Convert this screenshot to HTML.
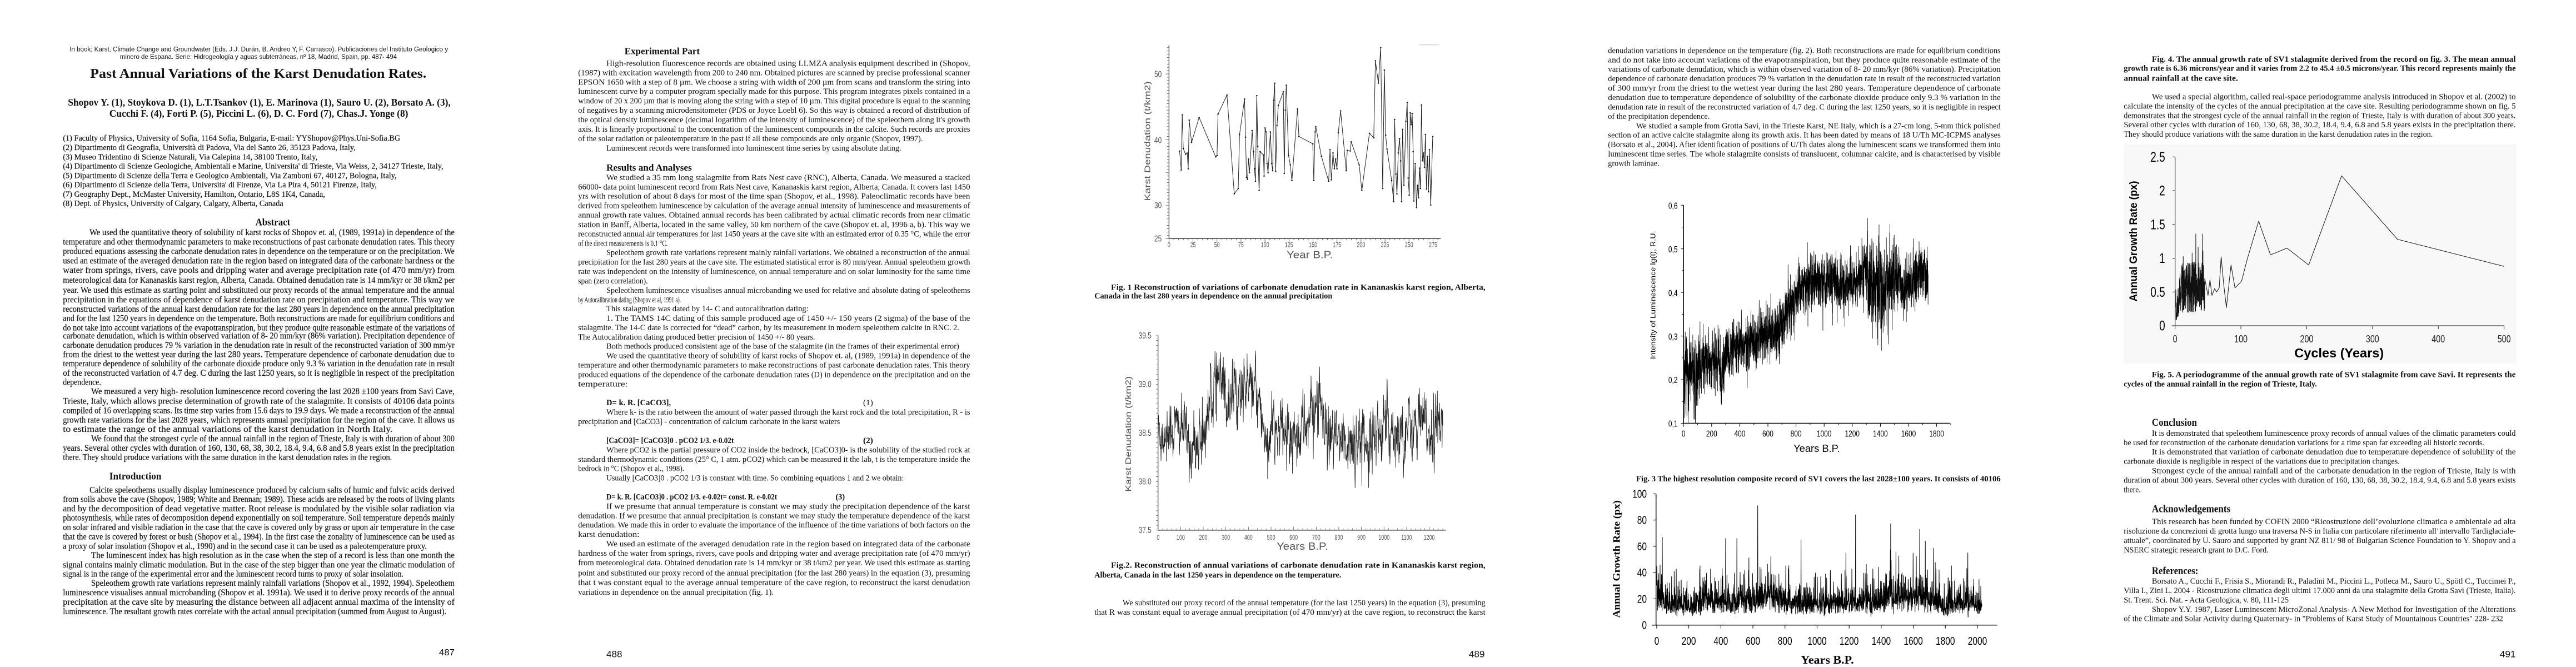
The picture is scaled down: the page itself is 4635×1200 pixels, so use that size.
<!DOCTYPE html>
<html><head><meta charset="utf-8"><style>
html,body{margin:0;padding:0;background:#fff;}
body{width:4635px;height:1200px;position:relative;overflow:hidden;}
svg.pg{position:absolute;top:0;height:1200px;width:930px;}
</style></head><body>
<svg class="pg" id="p1" style="left:0" viewBox="0 0 1560 3120" preserveAspectRatio="none"></svg>
<svg class="pg" id="p2" style="left:930px" viewBox="0 0 1560 1560" preserveAspectRatio="none"></svg>
<svg class="pg" id="p3" style="left:1850px" viewBox="0 0 1560 1560" preserveAspectRatio="none"></svg>
<svg class="pg" id="p4" style="left:2780px" viewBox="0 0 1560 1560" preserveAspectRatio="none"></svg>
<svg class="pg" id="p5" style="left:3705px" viewBox="0 0 1560 1560" preserveAspectRatio="none"></svg>
<script>
var NS='http://www.w3.org/2000/svg';
function el(svg,tag,a,txt){var e=document.createElementNS(NS,tag);for(var k in a)e.setAttribute(k,a[k]);if(txt!=null)e.textContent=txt;svg.appendChild(e);return e;}
function T(svg,x,y,s,o){o=o||{};var a={x:x,y:y,'font-size':o.fs||19};
 if(o.len){a.textLength=o.len;a.lengthAdjust='spacingAndGlyphs';}
 if(o.anchor)a['text-anchor']=o.anchor;if(o.bold)a['font-weight']='bold';if(o.it)a['font-style']='italic';
 a.style='font-family:'+(o.fam||'"Liberation Serif",serif')+';fill:'+(o.fill||'#111')+(o.sw?';stroke:'+(o.fill||'#111')+';stroke-width:'+o.sw:'');
 if(o.rot){a.transform='rotate(-90 '+x+' '+y+')';}
 return el(svg,'text',a,s);}
function L(svg,arr,fs,right,base,fam,sw){arr.forEach(function(r){var x=r[0],e=r[2]||right;
 T(svg,x,r[1]+base,r[3],{fs:fs,len:e-x,bold:r[4],fam:fam,sw:sw});});}
var rs=12345;function rnd(){rs=(rs*1103515245+12345)%2147483648;return rs/2147483648;}
function gs(){var u=rnd()||1e-6,v=rnd();return Math.sqrt(-2*Math.log(u))*Math.cos(6.2832*v);}
function ln(svg,x1,y1,x2,y2,w,c){el(svg,'line',{x1:x1,y1:y1,x2:x2,y2:y2,stroke:c||'#222','stroke-width':w||1,'vector-effect':'non-scaling-stroke'});}
function path(svg,pts,w,c){var d='M'+pts.map(function(p){return p[0].toFixed(1)+' '+p[1].toFixed(1);}).join('L');
 el(svg,'path',{d:d,fill:'none',stroke:c||'#111','stroke-width':w||1,'vector-effect':'non-scaling-stroke','stroke-linejoin':'round'});}
function interp(tab,x){for(var i=1;i<tab.length;i++){if(x<=tab[i][0]){var a=tab[i-1],b=tab[i];return a[1]+(b[1]-a[1])*(x-a[0])/(b[0]-a[0]);}}return tab[tab.length-1][1];}
var SF='"Liberation Sans",sans-serif',G='#555';

/* ================= PAGE 1 ================= */
var p1=document.getElementById('p1');
T(p1,210,240,'In book: Karst, Climate Change and Groundwater (Eds. J.J. Durán, B. Andreo Y, F. Carrasco). Publicaciones del Instituto Geologico y',{fs:32,len:1142,fam:SF});
T(p1,362,276,'minero de Espana. Serie: Hidrogeología y aguas subterráneas, nº 18, Madrid, Spain, pp. 487- 494',{fs:32,len:836,fam:SF});
T(p1,272,364,'Past Annual Variations of the Karst Denudation Rates.',{fs:62,len:1015,bold:1});
T(p1,205,494,'Shopov Y. (1), Stoykova D. (1), L.T.Tsankov (1), E. Marinova (1), Sauro U. (2), Borsato A. (3),',{fs:46,len:1155,bold:1});
T(p1,330,546,'Cucchi F. (4), Forti P. (5), Piccini L. (6), D. C. Ford  (7), Chas.J. Yonge (8)',{fs:46,len:902,bold:1});
var aff=[[645,1208,'(1) Faculty of Physics, University of Sofia, 1164 Sofia, Bulgaria, E-mail: YYShopov@Phys.Uni-Sofia.BG'],
[689,1073,'(2) Dipartimento di Geografia, Università di Padova, Via del Santo 26, 35123 Padova, Italy,'],
[733,958,'(3) Museo Tridentino di Scienze Naturali, Via Calepina 14, 38100 Trento, Italy,'],
[776,1338,"(4) Dipartimento di Scienze Geologiche, Ambientali e Marine, Universita' di Trieste, Via Weiss, 2, 34127 Trieste, Italy,"],
[820,1197,'(5) Dipartimento di Scienze della Terra e Geologico Ambientali, Via Zamboni 67, 40127, Bologna, Italy,'],
[863,1137,"(6) Dipartimento di Scienze della Terra, Universita' di Firenze, Via La Pira 4, 50121 Firenze, Italy,"],
[907,981,'(7) Geography Dept., McMaster University, Hamilton, Ontario, L8S 1K4, Canada,'],
[950,855,'(8) Dept. of Physics, University of Calgary, Calgary, Alberta, Canada']];
aff.forEach(function(a){T(p1,190,a[0]+13,a[2],{fs:38,len:a[1]-190,sw:0.4});});
T(p1,771,1054,'Abstract',{fs:46,len:105,bold:1});
var R1=1372,ab=[
[270,1087,0,'We used the quantitative theory of solubility of karst rocks of Shopov et. al, (1989, 1991a) in dependence of the'],
[190,1131,0,'temperature and other thermodynamic  parameters to make reconstructions of past carbonate denudation rates. This theory'],
[190,1175,0,'produced equations assessing the carbonate denudation rates in dependence on the temperature or on the precipitation. We'],
[190,1219,0,'used an estimate of the averaged denudation rate in the region based on integrated data of the carbonate hardness or the'],
[190,1263,0,'water  from  springs,  rivers,  cave  pools  and  dripping  water  and  average  precipitation  rate  (of  470  mm/yr)  from'],
[190,1310,0,'meteorological data for Kananaskis karst region, Alberta, Canada. Obtained denudation rate is 14 mm/kyr or 38 t/km2 per'],
[190,1357,0,'year. We used this estimate as starting point and substituted our proxy records of the annual temperature and the annual'],
[190,1401,0,'precipitation in the equations of dependence of karst denudation rate on precipitation and temperature. This way we'],
[190,1445,0,'reconstructed variations of the annual karst denudation rate for the last 280 years in dependence on the annual precipitation'],
[190,1489,0,'and for the last 1250 years in dependence on the temperature. Both reconstructions are made for equilibrium conditions and'],
[190,1533,0,'do not take into account variations of the evapotranspiration, but they produce quite reasonable estimate of the variations of'],
[190,1570,0,'carbonate denudation, which is within observed variation of 8- 20 mm/kyr (86% variation). Precipitation dependence of']];
var o=1560,ab2=[
[190,54,0,'carbonate denudation produces 79 % variation in the denudation rate in result of the reconstructed variation of 300 mm/yr'],
[190,97,0,'from the driest to the wettest year during the last 280 years. Temperature dependence of carbonate denudation due to'],
[190,140,0,'temperature dependence of solubility of the carbonate dioxide produce only 9.3 % variation in the denudation rate in result'],
[190,184,0,'of the reconstructed variation of 4.7 deg. C during the last 1250 years, so it is negligible in respect of the precipitation'],
[190,228,305,'dependence.'],
[275,271,0,'We measured a very high- resolution luminescence record covering the last 2028 ±100 years from Savi Cave,'],
[190,316,0,'Trieste, Italy, which allows precise determination of growth rate of the stalagmite. It consists of 40106 data points'],
[190,360,0,'compiled of 16 overlapping scans. Its time step varies from 15.6 days to 19.9 days. We made a reconstruction of the annual'],
[190,404,0,'growth rate variations for the last 2028 years, which represents annual precipitation for the region of the cave. It allows us'],
[190,447,1185,'to estimate the range of the annual variations of the karst denudation in North Italy.'],
[275,491,0,'We found that the strongest cycle of the annual rainfall in the region of Trieste, Italy is with duration of about 300'],
[190,535,0,'years. Several other cycles with duration of 160, 130, 68, 38, 30.2, 18.4, 9.4, 6.8 and 5.8 years exist in the precipitation'],
[190,578,1183,'there. They should produce variations with the same duration in the karst denudation rates in the region.'],
[270,732,0,'Calcite speleothems usually display luminescence produced by calcium salts of humic and fulvic acids derived'],
[190,775,0,'from soils above the cave (Shopov, 1989; White and Brennan; 1989). These acids are released by the roots of living plants'],
[190,819,0,'and by the decomposition of dead vegetative matter. Root release is modulated by the visible solar radiation via'],
[190,862,0,'photosynthesis, while rates of decomposition depend exponentially on soil temperature. Soil temperature depends mainly'],
[190,906,0,'on solar infrared and visible radiation in the case that the cave is covered only by grass or upon air temperature in the case'],
[190,950,0,'that the cave is covered by forest or bush (Shopov et al., 1994). In the first case the zonality of luminescence can be used as'],
[190,994,1288,'a proxy of solar insolation (Shopov et al., 1990) and in the second case it can be used as a paleotemperature proxy.'],
[275,1037,0,'The luminescent index has high resolution as in the case when the step of a record is less than one month the'],
[190,1081,0,'signal contains mainly climatic modulation. But in the case of the step bigger than one year the climatic modulation of'],
[190,1124,1218,'signal is in the range of the experimental error and the luminescent record turns to proxy of solar insolation.'],
[275,1168,0,'Speleothem growth rate variations represent mainly rainfall variations (Shopov et al., 1992, 1994). Speleothem'],
[190,1212,0,'luminescence visualises annual microbanding (Shopov et al. 1991a). We used it to derive proxy records of the annual'],
[190,1256,0,'precipitation at the cave site by measuring the distance between all adjacent annual maxima of the intensity of'],
[190,1300,1347,'luminescence. The resultant growth rates correlate with the actual annual precipitation (summed from August to August).']];
ab2.forEach(function(r){r[1]+=o;});
L(p1,ab.concat(ab2),40,R1,13,null,0.4);
T(p1,330,o+683,'Introduction',{fs:46,len:157,bold:1});
T(p1,1325,o+1505,'487',{fs:40,len:47,fam:SF});

/* ================= PAGE 2 ================= */
var p2=document.getElementById('p2');
T(p2,325,127,'Experimental Part',{fs:22,len:227,bold:1});
T(p2,270,399,'Results and Analyses',{fs:22,len:258,bold:1});
var R2=1368,l2=[
[270,148,0,'High-resolution fluorescence records are obtained using LLMZA analysis equipment described in (Shopov,'],
[185,170,0,'(1987) with excitation wavelength from 200 to 240 nm. Obtained pictures are scanned by precise professional scanner'],
[185,192,0,'EPSON 1650 with a step of 8 µm. We choose a string with width of 200 µm from scans and transform the string into'],
[185,214,0,'luminescent curve by a computer program specially made for this purpose. This program integrates pixels contained in a'],
[185,236,0,'window of 20 x 200 µm that is moving along the string with a step of 10 µm. This digital procedure is equal to the scanning'],
[185,258,0,'of negatives by a scanning microdensitometer (PDS or Joyce Loebl 6). So this way is obtained a record of distribution of'],
[185,280,0,"the optical density luminescence (decimal logarithm of the intensity of luminescence) of the speleothem along it's growth"],
[185,302,0,'axis. It is linearly proportional to the concentration of the luminescent compounds in the calcite. Such records are proxies'],
[185,324,1225,'of the solar radiation or paleotemperature in the past if all these compounds are only organic (Shopov, 1997).'],
[270,346,1160,'Luminescent records were transformed into luminescent time series by using absolute dating.'],
[270,415,0,'We studied a 35 mm long stalagmite from Rats Nest cave (RNC), Alberta, Canada. We measured a stacked'],
[185,437,0,'66000- data point luminescent record from Rats Nest cave, Kananaskis karst region, Alberta, Canada. It covers last 1450'],
[185,459,0,'yrs with resolution of about 8 days for most of the time span (Shopov, et al., 1998). Paleoclimatic records have been'],
[185,481,0,'derived from speleothem luminescence by calculation of the average annual intensity of luminescence and measurements of'],
[185,503,0,'annual growth rate values. Obtained annual records has been calibrated by actual climatic records from near climatic'],
[185,525,0,'station in Banff, Alberta, located in the same valley, 50 km northern of the cave (Shopov et. al, 1996 a, b). This way we'],
[185,547,0,'reconstructed annual air temperatures for last 1450 years at the cave site with an estimated error of 0.35 °C, while the error'],
[185,569,455,'of the direct measurements is 0.1 °C.'],
[270,591,0,'Speleothem growth rate variations represent mainly rainfall variations. We obtained a reconstruction of the annual'],
[185,613,0,'precipitation for the last 280 years at the cave site. The estimated statistical error is 80 mm/year. Annual speleothem growth'],
[185,635,0,'rate was independent on the intensity of luminescence, on annual temperature and on solar luminosity for the same time'],
[185,657,395,'span (zero correlation).'],
[270,679,0,'Speleothem luminescence visualises annual microbanding we used for relative and absolute dating of speleothems'],
[185,701,495,'by Autocalibration dating (Shopov et al, 1991 a).'],
[270,722,880,'This stalagmite was dated by 14- C and autocalibration dating:'],
[270,744,0,'1. The TAMS 14C dating of this sample produced age of 1450 +/- 150 years (2 sigma) of the base of the'],
[185,766,1335,'stalagmite. The 14-C date is corrected for “dead” carbon, by its measurement in modern speleothem calcite in RNC.  2.'],
[185,788,900,'The Autocalibration dating produced better precision of 1450 +/- 80 years.'],
[270,810,1335,'Both methods produced consistent age of the base of the stalagmite (in the frames of their experimental error)'],
[270,832,0,'We used the quantitative theory of solubility of karst rocks of Shopov et. al, (1989, 1991a) in  dependence  of  the'],
[185,854,0,'temperature and other thermodynamic parameters to make reconstructions of past carbonate denudation rates. This theory'],
[185,876,0,'produced equations of the dependence of the carbonate denudation rates (D) in dependence on the precipitation and on the'],
[185,898,335,'temperature:'],
[270,942,465,'D= k. R. [CaCO3],',1],[1045,942,1075,'(1)'],
[270,964,0,'Where k- is the ratio between the amount of water passed through the karst rock and the total precipitation, R - is'],
[185,986,975,'precipitation and [CaCO3] - concentration of calcium carbonate in the karst waters'],
[270,1030,655,'[CaCO3]= [CaCO3]0 . pCO2 1/3. e-0.02t',1],[1045,1030,1075,'(2)',1],
[270,1052,0,'Where pCO2 is the partial pressure of CO2 inside the bedrock, [CaCO3]0- is the solubility of the studied rock at'],
[185,1074,0,'standard thermodynamic conditions (25° C, 1 atm. pCO2) which can be measured it the lab, t is the temperature inside the'],
[185,1096,505,'bedrock in °C  (Shopov et al., 1998).'],
[270,1118,1168,'Usually [CaCO3]0 . pCO2 1/3 is constant with time. So combining equations 1 and 2 we obtain:'],
[270,1162,785,'D= k. R. [CaCO3]0 . pCO2 1/3. e-0.02t= const. R. e-0.02t',1],[962,1162,990,'(3)',1],
[270,1184,0,'If we presume that annual temperature is constant we may study the precipitation dependence of the karst'],
[185,1206,0,'denudation. If we presume that annual precipitation is constant we may study the temperature dependence of the karst'],
[185,1228,0,'denudation. We made this in order to evaluate the importance of the influence of the time variations of both factors on the'],
[185,1250,370,'karst denudation:'],
[270,1272,0,'We used an estimate of the averaged denudation rate in the region based on integrated data of the carbonate'],
[185,1294,0,'hardness of the water from springs, rivers, cave pools and dripping water and average precipitation rate (of 470 mm/yr)'],
[185,1316,0,'from meteorological data. Obtained denudation rate is 14 mm/kyr or 38 t/km2 per year. We used this estimate as starting'],
[185,1340,0,'point and substituted our proxy record of the annual precipitation (for the last 280 years) in the equation (3), presuming'],
[185,1362,0,'that t was constant equal to the average annual temperature of the cave region, to reconstruct the karst denudation'],
[185,1385,775,'variations in dependence on the annual precipitation (fig. 1).']];
L(p2,l2,19,R2,6);
T(p2,270,1537,'488',{fs:22,len:48,fam:SF});

/* ================= PAGE 3 ================= */
var p3=document.getElementById('p3');
ln(p3,425,105,425,558,1.2);ln(p3,425,558,1245,558,1.2);
for(var v=25;v<=54;v+=0.5){var yy=558-(v-25)*15.4;ln(p3,v%5==0?415:419,yy,425,yy,0.8,'#444');}
for(var yr=0;yr<=280;yr+=5){var xx=425+yr*2.898;ln(p3,xx,558,xx,yr%25==0?566:562,0.8,'#444');}
[[50,173],[40,328],[30,480],[25,558]].forEach(function(a){T(p3,403,a[1]+7,String(a[0]),{fs:20,anchor:'end',fam:SF,fill:G});});
for(var yr=0;yr<=275;yr+=25)T(p3,425+yr*2.898,578,String(yr),{fs:15,anchor:'middle',fam:SF,fill:G});
T(p3,368,470,'Karst Denudation  (t/km2)',{fs:24,rot:1,len:280,fam:SF,fill:G});
T(p3,780,604,'Year  B.P.',{fs:24,len:140,fam:SF,fill:G});
var c1=[[457,38.3],[462,35.4],[465,43.8],[468,38.7],[475,37.8],[480,38],[483,35.6],[486,43],[493,39.6],[516,43.4],[566,37.4],[570,37.6],[573,43.9],[600,46.8],[622,31.8],[634,32.6],[638,40.8],[653,46.2],[656,40.4],[659,34.3],[662,34],[665,37.1],[668,35],[676,41.4],[680,38.2],[683,35.6],[686,33.7],[690,46.7],[693,39],[697,32.3],[700,38.2],[710,37.7],[712,34.5],[715,41.8],[718,41.2],[721,36.4],[724,35],[731,41.2],[735,36.4],[738,35.3],[741,46],[744,48.6],[747,35.2],[751,42.2],[755,45.2],[770,47.3],[773,34.9],[776,44.5],[779,48.3],[786,37.6],[791,36.2],[796,33.8],[813,44.7],[817,40.5],[859,39.4],[862,33.8],[866,41.2],[868,42],[885,37.5],[907,33.7],[911,38.5],[915,33.9],[920,38],[924,35.6],[928,37.1],[932,35.6],[936,41.1],[943,44.4],[960,35.3],[963,38.4],[972,38.3],[975,39.7],[999,36.2],[1007,32.3],[1030,41],[1043,40.3],[1048,52],[1057,48.6],[1064,54],[1070,32.6],[1075,50.6],[1079,40.7],[1083,38.6],[1097,33.8],[1103,30.6],[1106,43.1],[1110,34.8],[1113,31.8],[1117,38],[1121,40.2],[1124,36.8],[1127,30.6],[1130,41.6],[1134,33.1],[1140,42.8],[1144,45.7],[1147,34.2],[1150,31.6],[1153,44.1],[1156,42.3],[1159,44],[1162,38.2],[1164,30.7],[1168,36.4],[1172,29.7],[1175,33.1],[1178,31.2],[1181,35.7],[1184,32.6],[1187,45.3],[1190,36.8],[1193,38],[1196,35.8],[1199,40.8],[1202,32.5],[1205,37.5],[1208,32.1],[1211,38.5],[1215,30.1],[1221,40.5]];
var pts1=c1.map(function(p){return [p[0],558-(p[1]-25)*15.4];});
path(p3,pts1,1,'#222');
pts1.forEach(function(p){ln(p3,p[0]-2,p[1],p[0]+2,p[1],2,'#111');});
ln(p3,1180,105,1240,105,0.6,'#999');
ln(p3,392,785,392,1240,1.2);ln(p3,392,1240,1260,1240,1.2);
for(var v=37.5;v<=39.5001;v+=0.05){var yy=1240-(v-37.5)*227.5;ln(p3,386,yy,392,yy,0.7,'#444');}
for(var yr=0;yr<=1270;yr+=20){var xx=392+yr*0.682;ln(p3,xx,1240,xx,yr%100==0?1232:1236,0.7,'#444');}
['39.5','39.0','38.5','38.0','37.5'].forEach(function(s,i){T(p3,372,785+i*113.75+7,s,{fs:20,anchor:'end',fam:SF,fill:G});});
for(var yr=0;yr<=1200;yr+=100)T(p3,392+yr*0.682,1262,String(yr),{fs:15,anchor:'middle',fam:SF,fill:G});
T(p3,310,1150,'Karst Denudation  (t/km2)',{fs:24,rot:1,len:270,fam:SF,fill:G});
T(p3,750,1286,'Years  B.P.',{fs:24,len:155,fam:SF,fill:G});
var b2=[[0,38.5],[100,38.55],[150,38.35],[200,38.5],[230,38.8],[265,39.05],[300,38.85],[330,38.95],[420,38.95],[450,38.85],[465,38.5],[600,38.5],[640,38.55],[690,38.7],[715,38.95],[730,38.45],[800,38.4],[900,38.45],[1000,38.55],[1100,38.55],[1260,38.55]];
var n=0,pts2=[];for(var i=0;i<=1260;i++){n=0.55*n+gs()*0.14;var val=interp(b2,i)+n;if(rnd()<0.02)val+=(rnd()-0.5)*0.9;val=Math.max(37.9,Math.min(39.45,val));pts2.push([392+i*0.682,1240-(val-37.5)*227.5]);}
path(p3,pts2,0.9,'#222');
var cap=[[250,672,0,'Fig. 1  Reconstruction  of  variations  of  carbonate  denudation  rate  in  Kananaskis  karst  region,  Alberta,',1],
[200,692,918,'Canada in the last 280 years in dependence on the annual precipitation',1],
[250,1322,0,'Fig.2.  Reconstruction  of  annual  variations  of  carbonate  denudation  rate  in  Kananaskis  karst  region,',1],
[200,1345,945,'Alberta, Canada in the last 1250 years in dependence on the temperature.',1],
[285,1410,0,'We substituted our proxy record of the annual temperature (for the last 1250 years) in the equation (3), presuming'],
[200,1432,0,'that R was constant equal to average annual precipitation (of 470 mm/yr) at the cave region, to reconstruct the karst']];
L(p3,cap,19,1380,6);
T(p3,1330,1537,'489',{fs:22,len:48,fam:SF});

/* ================= PAGE 4 ================= */
var p4=document.getElementById('p4');
var l4=[[190,118,0,'denudation variations in dependence on the temperature (fig. 2). Both reconstructions are made for equilibrium conditions'],
[190,140,0,'and do not take into account variations of the evapotranspiration, but they produce quite reasonable estimate of the'],
[190,162,0,'variations of carbonate denudation, which is within observed variation of 8- 20 mm/kyr (86% variation). Precipitation'],
[190,184,0,'dependence of carbonate denudation produces 79 % variation in the denudation rate in result of the reconstructed variation'],
[190,206,0,'of 300 mm/yr from the driest to the wettest year during the last 280 years. Temperature dependence of carbonate'],
[190,228,0,'denudation due to temperature dependence of solubility of the carbonate dioxide produce only 9.3 % variation in the'],
[190,250,0,'denudation rate in result of the reconstructed variation of 4.7 deg. C during the last 1250 years, so it is negligible in respect'],
[190,272,497,'of the precipitation dependence.'],
[275,294,0,'We studied a sample from Grotta Savi, in the Trieste Karst, NE Italy, which is a 27-cm long, 5-mm thick polished'],
[190,316,0,'section of an active calcite stalagmite along its growth axis. It has been dated by means of 18 U/Th MC-ICPMS analyses'],
[190,338,0,'(Borsato et al., 2004). After identification of positions of U/Th dates along the luminescent scans we transformed them into'],
[190,360,0,'luminescent time series. The whole stalagmite consists of translucent, columnar calcite, and is characterised by visible'],
[190,382,345,'growth laminae.'],
[275,1120,0,'Fig. 3  The highest resolution composite record of SV1 covers the last 2028±100 years. It consists of 40106',1]];
L(p4,l4,19,1375,6);
ln(p4,418,480,418,990,1.5,'#000');ln(p4,418,990,1222,990,1.5,'#000');
for(var k=0;k<=5;k++){var yy=480+k*102;ln(p4,410,yy,418,yy,1,'#000');T(p4,400,yy+8,['0,6','0,5','0,4','0,3','0,2','0,1'][k],{fs:20,anchor:'end',fam:SF,fill:'#000'});if(k<5)ln(p4,413,yy+51,418,yy+51,1,'#000');}
for(var yr=0;yr<=1900;yr+=100){var xx=418+yr*0.4244;ln(p4,xx,990,xx,yr%200==0?998:994,1,'#000');if(yr%200==0&&yr<=1800)T(p4,xx,1021,String(yr),{fs:20,anchor:'middle',fam:SF,fill:'#000'});}
T(p4,333,840,'Intensity of Luminescence lg(I), R.U.',{fs:22,rot:1,len:300,fam:SF,fill:'#000'});
T(p4,750,1057,'Years B.P.',{fs:24,len:140,fam:SF,fill:'#000'});
var b3=[[0,0.22],[100,0.21],[150,0.25],[250,0.24],[270,0.2],[300,0.26],[400,0.27],[500,0.29],[600,0.3],[700,0.33],[780,0.37],[820,0.41],[900,0.42],[1000,0.42],[1060,0.44],[1100,0.41],[1200,0.42],[1300,0.45],[1380,0.41],[1420,0.39],[1480,0.44],[1560,0.41],[1620,0.42],[1680,0.45],[1740,0.43]];
n=0;var pts3=[];for(var i=0;i<=3480;i++){var yr=i/2;n=0.3*n+gs()*0.028;var amp=(yr>1300&&yr<1500)?1.6:(yr<120?1.5:1);var val=interp(b3,yr)+n*amp;if(rnd()<0.01)val+=(rnd()-0.5)*0.2;val=Math.max(0.1,Math.min(0.6,val));pts3.push([418+yr*0.4244,990-(val-0.1)*1020]);}
path(p4,pts3,0.8,'#000');
ln(p4,335,1155,335,1462,1.5,'#000');ln(p4,322,1462,1365,1462,1.5,'#000');
for(var k=0;k<=5;k++){var yy=1462-k*61.4;ln(p4,326,yy,335,yy,1,'#000');T(p4,307,yy+9,String(k*20),{fs:26,anchor:'end',fam:SF,fill:'#000'});}
for(var yr=0;yr<=2000;yr+=200){var xx=337+yr*0.484;ln(p4,xx,1462,xx,1470,1,'#000');T(p4,xx,1508,String(yr),{fs:26,anchor:'middle',fam:SF,fill:'#000'});}
T(p4,226,1445,'Annual Growth Rate (px)',{fs:30,rot:1,len:275,bold:1,fill:'#000'});
T(p4,772,1552,'Years B.P.',{fs:28,len:160,bold:1,fill:'#000'});
var spikes={35:67,430:66,500:66,630:91,900:65,1240:84,1640:73,1675:64,1940:55,1180:55};
var pts4=[];var lvl=[[0,22],[60,17],[250,14],[300,22],[350,17],[600,19],[700,21],[800,16],[1000,16],[1400,18],[1450,22],[1600,20],[1650,22],[1800,14],[1900,17],[2028,16]];
for(var i=0;i<=2028;i++){var base=interp(lvl,i);var val=base*Math.exp(gs()*0.33);if(rnd()<0.06)val+=rnd()*22;if(spikes[i])val=spikes[i];val=Math.max(4,Math.min(95,val));pts4.push([337+i*0.484,1462-val*3.07]);}
path(p4,pts4,1,'#000');

/* ================= PAGE 5 ================= */
var p5=document.getElementById('p5');
el(p5,'rect',{x:195,y:338,width:1185,height:512,fill:'#f8f8f8'});
var l5=[[280,138,0,'Fig. 4. The annual growth rate of SV1 stalagmite derived from the record on fig. 3. The mean annual',1],
[195,160,0,'growth rate is 6.36 microns/year and it varies from 2.2 to 45.4 ±0.5 microns/year. This record represents mainly the',1],
[195,183,540,'annual rainfall at the cave site.',1],
[280,226,0,'We used a special algorithm, called real-space periodogramme analysis introduced in Shopov et al. (2002) to'],
[195,248,0,'calculate the intensity of the cycles of the annual precipitation at the cave site. Resulting periodogramme shown on fig. 5'],
[195,270,0,'demonstrates that the strongest cycle of the annual rainfall in the region of Trieste, Italy is with duration of about 300 years.'],
[195,292,0,'Several other cycles with duration of 160, 130, 68, 38, 30.2, 18.4, 9.4, 6.8 and 5.8 years exists in the precipitation there.'],
[195,314,1128,'They should produce variations with the same duration in the karst denudation rates in the region.'],
[280,876,0,'Fig. 5. A periodogramme of the annual growth rate of SV1 stalagmite from cave Savi. It represents the',1],
[195,898,778,'cycles of the annual rainfall in the region of Trieste, Italy.',1],
[280,1013,0,'It is demonstrated that speleothem luminescence proxy records of annual values of the climatic parameters could'],
[195,1035,1283,'be used for reconstruction of the carbonate denudation variations for a time span far exceeding all historic records.'],
[280,1057,0,'It is demonstrated that variation of carbonate denudation due to temperature dependence of solubility of the'],
[195,1079,1028,'carbonate dioxide is negligible in respect of the variations due to precipitation changes.'],
[280,1101,0,'Strongest cycle of the annual rainfall and of the carbonate denudation in the region of Trieste, Italy is with'],
[195,1123,0,'duration of about 300 years. Several other cycles with duration of 160, 130, 68, 38, 30.2, 18.4, 9.4, 6.8 and 5.8 years exists'],
[195,1145,246,'there.'],
[280,1220,0,'This research has been funded by COFIN 2000 “Ricostruzione dell’evoluzione climatica e ambientale ad alta'],
[195,1242,0,'risoluzione da concrezioni di grotta lungo una traversa N-S in Italia con particolare riferimento all’intervallo Tardiglaciale-'],
[195,1264,0,'attuale”, coordinated by U. Sauro and supported by grant NZ 811/ 98 of Bulgarian Science Foundation to Y. Shopov and a'],
[195,1286,632,'NSERC strategic research grant to D.C. Ford.'],
[280,1359,0,'Borsato A., Cucchi F., Frisia S., Miorandi R., Paladini M., Piccini L., Potleca M., Sauro U., Spötl C., Tuccimei P.,'],
[195,1381,0,'Villa I., Zini L. 2004 - Ricostruzione climatica degli ultimi 17.000 anni da una stalagmite della Grotta Savi (Trieste, Italia).'],
[195,1403,693,'St. Trent. Sci. Nat. - Acta Geologica, v. 80, 111-125'],
[280,1425,0,'Shopov Y.Y. 1987, Laser Luminescent MicroZonal Analysis- A New Method for Investigation of the Alterations'],
[195,1447,1340,'of the Climate and Solar Activity during Quaternary- in  "Problems of Karst Study of Mountainous Countries" 228- 232']];
L(p5,l5,19,1378,6);
T(p5,280,996,'Conclusion',{fs:25,len:136,bold:1});
T(p5,280,1198,'Acknowledgements',{fs:25,len:237,bold:1});
T(p5,280,1343,'References:',{fs:25,len:140,bold:1});
T(p5,1330,1537,'491',{fs:22,len:48,fam:SF});
ln(p5,350,367,350,762,1.2,'#222');ln(p5,340,762,1343,762,1.2,'#222');
['0','0.5','1','1.5','2','2.5'].forEach(function(s,k){var yy=762-k*79;ln(p5,342,yy,350,yy,1,'#222');T(p5,320,yy+11,s,{fs:32,anchor:'end',fam:SF,fill:'#000'});});
for(var c=0;c<=500;c+=100){var xx=350+c*1.986;ln(p5,xx,762,xx,770,1,'#222');T(p5,xx,801,String(c),{fs:24,anchor:'middle',fam:SF,fill:'#222'});}
T(p5,710,836,'Cycles (Years)',{fs:30,len:270,bold:1,fam:SF,fill:'#000'});
T(p5,235,705,'Annual Growth Rate (px)',{fs:32,rot:1,len:282,bold:1,fam:SF,fill:'#000'});
var pts5=[];for(var i=0;i<=260;i++){var c=1+i*44/260;var env=Math.min(1,0.3+c/15);var val=env*(0.2+rnd()*0.75);if(rnd()<0.05)val+=rnd()*0.4;if(i==180||i==240)val=1.36;pts5.push([350+c*1.986,762-val*158]);}
var tail=[[45,0.7],[50,0.45],[53,0.68],[56,0.45],[60,0.55],[63,0.5],[67,0.56],[70,1.02],[74,0.6],[78,0.27],[85,0.9],[91,0.56],[101,0.66],[110,1.0],[127,1.55],[145,1.05],[170,1.15],[203,0.9],[253,2.22],[338,1.28],[500,0.88]];
tail.forEach(function(p){pts5.push([350+p[0]*1.986,762-p[1]*158]);});
path(p5,pts5,1,'#111');
</script>
</body></html>
